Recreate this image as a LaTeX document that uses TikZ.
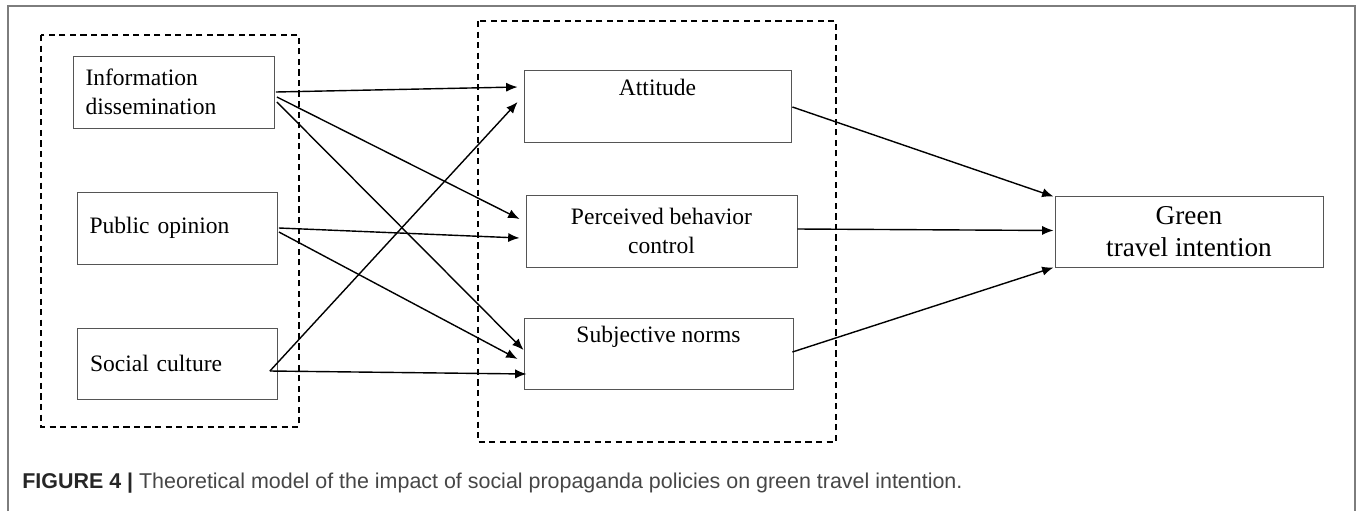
\documentclass[tikz,border=0pt]{standalone}
\usepackage{fontspec}
\setmainfont{Liberation Serif}
\setsansfont{Liberation Sans}
\usepackage{tikz}
\usetikzlibrary{arrows,arrows.meta,shapes,positioning,calc}
\definecolor{framegray}{RGB}{125,125,125}
\definecolor{boxgray}{RGB}{85,85,85}
\definecolor{captiongray}{RGB}{70,70,70}
\tikzstyle{arrow} = [line width=0.8pt,->,>={Latex[length=6.5pt,width=5.2pt]},color=black]
\tikzstyle{groupbox} = [dash pattern=on 3.5pt off 2.5pt, line width=0.7pt, color=black]
\tikzstyle{factorbox} = [rectangle, minimum height=1.44cm, inner xsep=0.24cm, text width=3.54cm, align=left, draw=boxgray, line width=0.5pt, font=\fontsize{13.4}{16.5}\selectfont]
\tikzstyle{tpbbox} = [rectangle, minimum height=1.44cm, align=center, draw=boxgray, line width=0.5pt, font=\fontsize{13.4}{16.5}\selectfont]
\tikzstyle{outcomebox} = [rectangle, minimum width=5.36cm, minimum height=1.42cm, align=center, draw=boxgray, line width=0.5pt, font=\fontsize{15.5}{18.2}\selectfont]

\begin{document}
\begin{tikzpicture}[x=0.02cm, y=-0.02cm]
\useasboundingbox (0,0) rectangle (1357,511);
% Frame
\draw[framegray, line width=1.1pt] (8,511) -- (8,6) -- (1355,6) -- (1355,511);

% Groups
\draw[groupbox] (41,35) rectangle (299,427);
\draw[groupbox] (478,21) rectangle (836,442);

% Policy factors
\node[factorbox] (info) at (174,92) {Information\\dissemination};
\node[factorbox, text width=3.52cm] (public) at (177.5,228) {Public opinion};
\node[factorbox, text width=3.5cm, inner xsep=0.25cm, minimum height=1.42cm] (social) at (177.5,363.5) {Social culture};

% Planned behavior
\node[tpbbox, minimum width=5.34cm] (att) at (657.5,106) {Attitude\\\strut};
\node[tpbbox, minimum width=5.42cm] (pbc) at (661.5,231) {Perceived behavior\\control};
\node[tpbbox, minimum width=5.38cm, minimum height=1.42cm] (subj) at (658.5,353.5) {Subjective norms\\\strut};

% Outcome
\node[outcomebox] (green) at (1189,231.5) {Green\\travel intention};

% Paths
\draw[arrow] ($(info.east)+(1,0)$) -- ($(att.west)+(-6,-19)$);
\draw[arrow] ($(info.east)+(2,5)$) -- ($(pbc.west)+(-6,-12)$);
\draw[arrow] ($(info.east)+(2,10)$) -- ($(subj.west)+(0,-3.5)$);
\draw[arrow] ($(public.east)+(1,0)$) -- ($(pbc.west)+(-6,7)$);
\draw[arrow] ($(public.east)+(1,4)$) -- ($(subj.west)+(-6,5.5)$);
\draw[arrow] ($(social.east)+(-8,7.5)$) -- ($(att.west)+(-6,-4)$);
\draw[arrow] ($(social.east)+(-8,7.5)$) -- ($(subj.west)+(3,20.5)$);
\draw[arrow] ($(att.east)+(1,1)$) -- ($(green.north west)+(-1,1)$);
\draw[arrow] ($(pbc.east)+(0,-2)$) -- ($(green.west)+(-1,-1)$);
\draw[arrow] ($(subj.east)+(-1,-1.5)$) -- ($(green.south west)+(-1,0)$);

% Caption
\node[anchor=base west, inner sep=0, font=\sffamily\fontsize{12.2}{14}\selectfont, captiongray] (caption) at (22,488)
  {\textbf{\color{black!85}FIGURE 4 |} Theoretical model of the impact of social propaganda policies on green travel intention.};
\end{tikzpicture}
\end{document}
